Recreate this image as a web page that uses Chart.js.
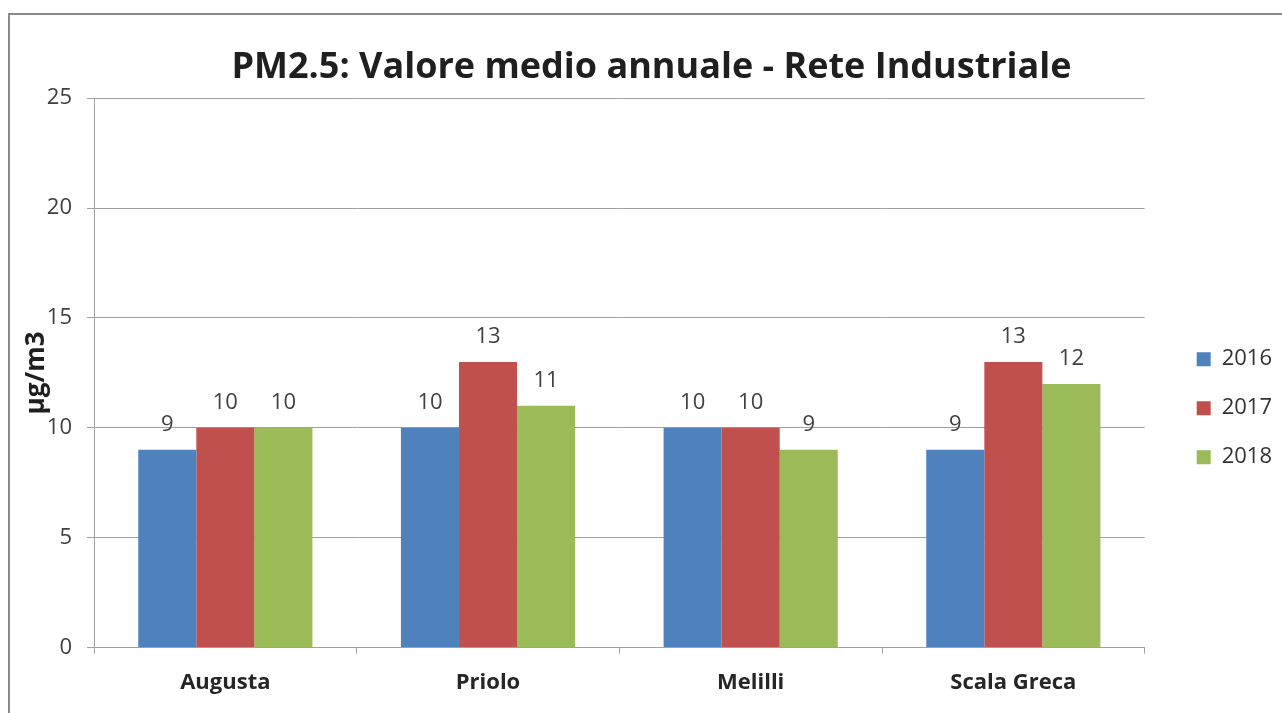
<!DOCTYPE html>
<html lang="it">
<head>
  <meta charset="UTF-8">
  <title>PM2.5: Valore medio annuale - Rete Industriale</title>
  <script src="https://cdn.jsdelivr.net/npm/chart.js"></script>
  <style>
    html, body { margin: 0; padding: 0; background: #fff; overflow: hidden; }
    #wrap { position: relative; width: 1282px; height: 713px; }
    #frame { position: absolute; left: 8px; top: 13px; width: 1300px; height: 720px;
             border-left: 2px solid #8a8a8a; border-top: 2px solid #8a8a8a; }
    canvas { position: absolute; left: 0; top: 0; }
  </style>
</head>
<body>
<div id="wrap">
  <div id="frame"></div>
  <canvas id="pmChart" width="1282" height="713"></canvas>
</div>
<script>
  const stazioni = ['Augusta', 'Priolo', 'Melilli', 'Scala Greca'];
  const anni = ['2016', '2017', '2018'];
  const val2016 = [9, 10, 10, 9];
  const val2017 = [10, 13, 10, 13];
  const val2018 = [10, 11, 9, 12];
  const colori = ['#4f81bd', '#c0504d', '#9bbb59'];
  const font = '"Open Sans", sans-serif';

  // etichette sopra le barre
  const valoriSopra = {
    id: 'valoriSopra',
    afterDatasetsDraw(chart) {
      const ctx = chart.ctx;
      ctx.save();
      ctx.font = '22px ' + font;
      ctx.fillStyle = '#404040';
      ctx.textAlign = 'center';
      ctx.textBaseline = 'alphabetic';
      chart.data.datasets.forEach((ds, i) => {
        chart.getDatasetMeta(i).data.forEach((bar, j) => {
          ctx.fillText(ds.data[j], bar.x, bar.y - 19);
        });
      });
      ctx.restore();
    }
  };

  new Chart(document.getElementById('pmChart'), {
    type: 'bar',
    data: {
      labels: stazioni,
      datasets: [
        { label: anni[0], data: val2016, backgroundColor: colori[0] },
        { label: anni[1], data: val2017, backgroundColor: colori[1] },
        { label: anni[2], data: val2018, backgroundColor: colori[2] }
      ]
    },
    options: {
      responsive: false,
      animation: false,
      datasets: { bar: { categoryPercentage: 0.663, barPercentage: 1 } },
      layout: { padding: { left: 21, right: 0, top: 0, bottom: 1 } },
      plugins: {
        title: {
          display: true,
          text: 'PM2.5: Valore medio annuale - Rete Industriale',
          color: '#1f1f1f',
          font: { family: font, size: 36, weight: 'bold' },
          padding: { top: 46, bottom: 9 }
        },
        legend: {
          position: 'right',
          title: { display: true, text: ' ', font: { size: 12 }, padding: { top: 0, bottom: 90 } },
          labels: {
            color: '#333',
            font: { family: font, size: 22 },
            boxWidth: 14, boxHeight: 14, padding: 27
          }
        },
        tooltip: { enabled: false }
      },
      scales: {
        x: {
          grid: { display: true, drawOnChartArea: false, offset: true, tickLength: 6, color: '#a0a0a0' },
          border: { color: '#a0a0a0' },
          ticks: { color: '#262626', padding: 16, font: { family: font, size: 22, weight: 'bold' } }
        },
        y: {
          min: 0, max: 25,
          afterFit(scale) { scale.width = 73; },
          ticks: { stepSize: 5, color: '#404040', padding: 15, font: { family: font, size: 22 } },
          grid: { color: '#a0a0a0', tickLength: 7 },
          border: { color: '#a0a0a0' },
          title: {
            display: true, text: 'µg/m3', color: '#1f1f1f',
            font: { family: font, size: 26, weight: 'bold' },
            padding: { top: 0, bottom: 0 }
          }
        },
        // spazio vuoto tra grafico e legenda
        spazio: {
          type: 'linear', position: 'right', display: true,
          grid: { display: false }, border: { display: false },
          ticks: { display: false },
          afterFit(scale) { scale.width = 25; }
        }
      }
    },
    plugins: [valoriSopra]
  });
</script>
</body>
</html>
